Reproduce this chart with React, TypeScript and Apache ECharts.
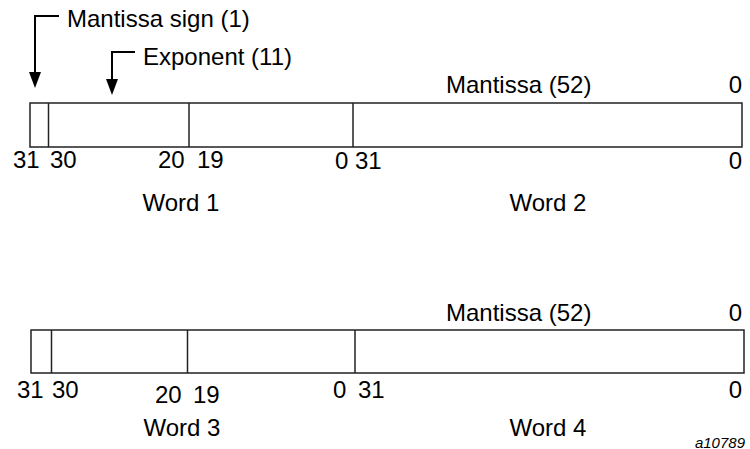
import React, { useEffect, useRef } from "react";
import * as echarts from "echarts";

// ---- content ----
const wordNames = ["Word 1", "Word 2", "Word 3", "Word 4"];
const pointerTitles = ["Mantissa sign (1)", "Exponent (11)"];
const mantissaTitle = "Mantissa (52)";
const mantissaEndBit = "0";
const bitLabels = ["31", "30", "20", "19", "0", "31", "0"];
const figureId = "a10789";

// ---- layout (pixels) ----
const FONT = "'Liberation Sans', Arial, Helvetica, sans-serif";
const FS = 24;
const rows = [
  {
    box: [30, 103, 742, 147],
    dividers: [48.5, 189, 353],
    mantY: 84,
    bitX: [13, 50, 158, 197, 335, 355, 742],
    bitY: [159, 159, 159, 159, 160, 160, 160],
    wordX: [181, 548],
    wordY: 202,
  },
  {
    box: [31, 330, 744, 373],
    dividers: [51.5, 187.5, 355],
    mantY: 312,
    bitX: [17, 52, 155, 193, 333, 358, 742],
    bitY: [389, 389, 394, 394, 389, 389, 389],
    wordX: [182, 548],
    wordY: 427,
  },
];
const pointers = [
  { textX: 67, textY: 18, line: [[59, 16], [35, 16], [35, 74]], head: [[29, 72], [41, 72], [35, 88]] },
  { textX: 143, textY: 56, line: [[135, 52], [112, 52], [112, 81]], head: [[106, 79], [118, 79], [112, 95]] },
];

function txt(text: string, x: number, y: number, align = "left", size = FS, italic = false) {
  return {
    type: "text",
    x,
    y,
    style: {
      text,
      fill: "#000",
      font: `${italic ? "italic " : ""}${size}px ${FONT}`,
      align,
      verticalAlign: "middle",
    },
  };
}

function buildGraphics() {
  const els: any[] = [];
  const stroke = "#222";
  rows.forEach((r, ri) => {
    const [x0, y0, x1, y1] = r.box;
    els.push({
      type: "rect",
      shape: { x: x0, y: y0, width: x1 - x0, height: y1 - y0 },
      style: { fill: "#fff", stroke, lineWidth: 1.5 },
    });
    r.dividers.forEach((dx) => {
      els.push({
        type: "line",
        shape: { x1: dx, y1: y0, x2: dx, y2: y1 },
        style: { stroke, lineWidth: 1.5 },
      });
    });
    els.push(txt(mantissaTitle, 446, r.mantY));
    els.push(txt(mantissaEndBit, 742, r.mantY, "right"));
    bitLabels.forEach((b, i) => {
      const last = i === bitLabels.length - 1;
      els.push(txt(b, r.bitX[i], r.bitY[i], last ? "right" : "left"));
    });
    els.push(txt(wordNames[ri * 2], r.wordX[0], r.wordY, "center"));
    els.push(txt(wordNames[ri * 2 + 1], r.wordX[1], r.wordY, "center"));
  });
  pointers.forEach((p, i) => {
    els.push({
      type: "polyline",
      shape: { points: p.line },
      style: { stroke: "#000", lineWidth: 2, fill: "none" },
    });
    els.push({
      type: "polygon",
      shape: { points: p.head },
      style: { fill: "#000" },
    });
    els.push(txt(pointerTitles[i], p.textX, p.textY));
  });
  els.push(txt(figureId, 745, 442, "right", 15, true));
  return els;
}

export default function App() {
  const ref = useRef<HTMLDivElement>(null);
  useEffect(() => {
    if (!ref.current) return;
    const chart = echarts.init(ref.current, null, { renderer: "svg" });
    chart.setOption({
      animation: false,
      backgroundColor: "#fff",
      graphic: { elements: buildGraphics() },
    });
    return () => chart.dispose();
  }, []);
  return (
    <div
      ref={ref}
      style={{ position: "fixed", left: 0, top: 0, width: 750, height: 449, background: "#fff" }}
    />
  );
}
